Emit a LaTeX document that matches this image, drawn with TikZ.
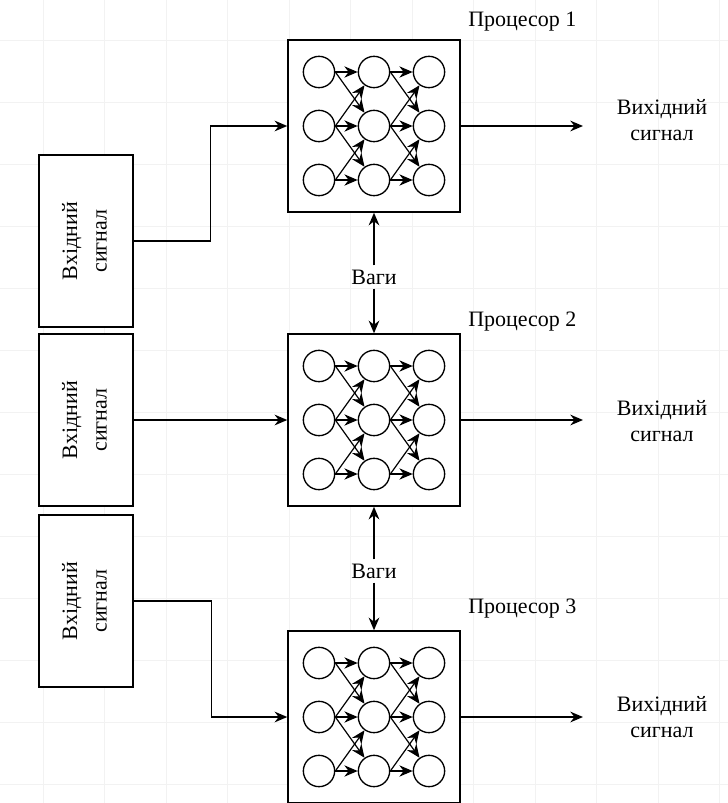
\documentclass[tikz,border=0pt]{standalone}
\usepackage{fontspec}
\setmainfont{Liberation Serif}
\usetikzlibrary{arrows.meta}
\tikzset{
  procbox/.style={draw, fill=white, line width=1.1pt, minimum width=129pt, minimum height=129pt, inner sep=0pt},
  inbox/.style={draw, fill=white, line width=1.1pt, minimum width=70.5pt, minimum height=129pt, inner sep=0pt, font=\fontsize{16.5}{22}\selectfont},
  neuron/.style={circle, draw, fill=white, line width=1pt, minimum size=23.5pt, inner sep=0pt},
  sig/.style={line width=1.1pt, -{Stealth[length=9.5pt,width=8pt]}},
  link/.style={line width=0.9pt, -{Stealth[length=10pt,width=8.5pt]}},
  txt/.style={font=\fontsize{16.5}{20}\selectfont, align=center, inner sep=0pt},
  gridline/.style={gray!10, line width=0.4pt}
}

\begin{document}
\begin{tikzpicture}[x=0.75pt, y=-0.75pt]
\useasboundingbox (0,0) rectangle (728,803);

% фонова сітка
\foreach \k in {0,...,11}
  \draw[gridline] (43+61.5*\k,0) -- (43+61.5*\k,803);
\foreach \k in {0,...,12}
  \draw[gridline] (0,40+62*\k) -- (728,40+62*\k);

% процесори з нейромережею 3x3
\foreach \p/\y in {1/126, 2/420, 3/717} {
  \node[procbox] (p\p) at (374,\y) {};
  \foreach \c/\dx in {1/-55, 2/0, 3/55}
    \foreach \r/\dy in {1/-54, 2/0, 3/54}
      \node[neuron] (n\p-\c-\r) at (374+\dx,\y+\dy) {};
  \foreach \c/\d in {1/2, 2/3}
    \foreach \r/\s in {1/1, 2/2, 3/3, 1/2, 2/1, 2/3, 3/2}
      \draw[link] (n\p-\c-\r.east) -- (n\p-\d-\s);
}

% підписи процесорів
\node[txt, anchor=west] (lab1) at (468,22) {Процесор 1};
\node[txt, anchor=west] (lab2) at (468,322) {Процесор 2};
\node[txt, anchor=west] (lab3) at (468,609) {Процесор 3};

% вхідні сигнали
\node[inbox] (in1) at (86,241) {\rotatebox{90}{\begin{tabular}{c}Вхідний\\сигнал\end{tabular}}};
\node[inbox] (in2) at (86,420) {\rotatebox{90}{\begin{tabular}{c}Вхідний\\сигнал\end{tabular}}};
\node[inbox] (in3) at (86,601) {\rotatebox{90}{\begin{tabular}{c}Вхідний\\сигнал\end{tabular}}};

\draw[sig] (in1.east) -- ++(77,0) |- (p1.west);
\draw[sig] (in2) -- (p2);
\draw[sig] (in3.east) -- ++(78,0) |- (p3.west);

% вихідні сигнали
\foreach \p/\y/\t in {1/126/120, 2/420/421, 3/717/717} {
  \coordinate (o\p) at (583,\y);
  \draw[sig] (p\p) -- (o\p);
  \node[txt] (out\p) at (662,\t) {Вихідний\\сигнал};
}

% ваги між процесорами
\node[txt, inner sep=3pt] (w1) at (374,277) {Ваги};
\draw[sig] (w1) -- (p1);
\draw[sig] (w1) -- (p2);
\node[txt, inner sep=3pt] (w2) at (374,571) {Ваги};
\draw[sig] (w2) -- (p2);
\draw[sig] (w2) -- (p3);
\end{tikzpicture}
\end{document}
